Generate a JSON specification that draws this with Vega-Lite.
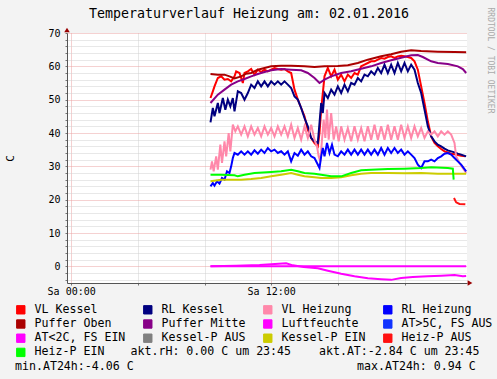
{
 "$schema": "https://vega.github.io/schema/vega-lite/v6.json",
 "width": 400,
 "height": 250,
 "autosize": {"type": "none"},
 "padding": {"left": 67, "top": 33, "right": 30, "bottom": 96},
 "background": "#f3f3f3",
 "view": {"fill": "white", "stroke": null},
 "title": {"text": "Temperaturverlauf Heizung am: 02.01.2016", "font": "DejaVu Sans Mono", "fontSize": 13.3, "fontWeight": "normal", "color": "#000000", "anchor": "middle", "frame": "group", "dx": -18, "offset": -24.5, "baseline": "alphabetic"},
 "resolve": {"axis": {"y": "independent"}},
 "layer": [
  {
   "data": {"values": [
    {"series":"VL Kessel","hour":8.36,"temp":50.5},{"series":"VL Kessel","hour":8.5,"temp":52.5},{"series":"VL Kessel","hour":8.6,"temp":54},{"series":"VL Kessel","hour":8.8,"temp":56.5},{"series":"VL Kessel","hour":9.0,"temp":57},{"series":"VL Kessel","hour":9.2,"temp":56},{"series":"VL Kessel","hour":9.4,"temp":56.2},{"series":"VL Kessel","hour":9.6,"temp":55.5},{"series":"VL Kessel","hour":9.8,"temp":57},{"series":"VL Kessel","hour":9.9,"temp":58.5},{"series":"VL Kessel","hour":10.1,"temp":58},{"series":"VL Kessel","hour":10.3,"temp":55},{"series":"VL Kessel","hour":10.4,"temp":58},{"series":"VL Kessel","hour":10.6,"temp":58.5},{"series":"VL Kessel","hour":10.8,"temp":59.2},{"series":"VL Kessel","hour":11.0,"temp":57.5},{"series":"VL Kessel","hour":11.2,"temp":59},{"series":"VL Kessel","hour":11.4,"temp":58.3},{"series":"VL Kessel","hour":11.6,"temp":59},{"series":"VL Kessel","hour":11.8,"temp":58.5},{"series":"VL Kessel","hour":12.0,"temp":59},{"series":"VL Kessel","hour":12.2,"temp":59.5},{"series":"VL Kessel","hour":12.4,"temp":59.2},{"series":"VL Kessel","hour":12.6,"temp":59},{"series":"VL Kessel","hour":12.8,"temp":59.2},{"series":"VL Kessel","hour":13.0,"temp":58.5},{"series":"VL Kessel","hour":13.2,"temp":58},{"series":"VL Kessel","hour":13.4,"temp":53},{"series":"VL Kessel","hour":13.6,"temp":50},{"series":"VL Kessel","hour":13.8,"temp":47.5},{"series":"VL Kessel","hour":14.0,"temp":45},{"series":"VL Kessel","hour":14.2,"temp":41},{"series":"VL Kessel","hour":14.4,"temp":38.5},{"series":"VL Kessel","hour":14.6,"temp":37},{"series":"VL Kessel","hour":14.8,"temp":36},{"series":"VL Kessel","hour":14.9,"temp":40},{"series":"VL Kessel","hour":15.0,"temp":47},{"series":"VL Kessel","hour":15.2,"temp":57},{"series":"VL Kessel","hour":15.4,"temp":59.5},{"series":"VL Kessel","hour":15.6,"temp":57},{"series":"VL Kessel","hour":15.8,"temp":59},{"series":"VL Kessel","hour":16.0,"temp":56},{"series":"VL Kessel","hour":16.2,"temp":57.5},{"series":"VL Kessel","hour":16.4,"temp":55.5},{"series":"VL Kessel","hour":16.6,"temp":57.5},{"series":"VL Kessel","hour":16.8,"temp":56.5},{"series":"VL Kessel","hour":17.0,"temp":58},{"series":"VL Kessel","hour":17.2,"temp":57.5},{"series":"VL Kessel","hour":17.4,"temp":60},{"series":"VL Kessel","hour":17.6,"temp":60.5},{"series":"VL Kessel","hour":17.8,"temp":61},{"series":"VL Kessel","hour":18.0,"temp":61.5},{"series":"VL Kessel","hour":18.2,"temp":61.5},{"series":"VL Kessel","hour":18.4,"temp":62},{"series":"VL Kessel","hour":18.6,"temp":62.5},{"series":"VL Kessel","hour":18.8,"temp":62.3},{"series":"VL Kessel","hour":19.0,"temp":62.8},{"series":"VL Kessel","hour":19.2,"temp":63},{"series":"VL Kessel","hour":19.4,"temp":62.5},{"series":"VL Kessel","hour":19.6,"temp":63},{"series":"VL Kessel","hour":19.8,"temp":63.2},{"series":"VL Kessel","hour":20.0,"temp":63},{"series":"VL Kessel","hour":20.2,"temp":62.8},{"series":"VL Kessel","hour":20.4,"temp":62.5},{"series":"VL Kessel","hour":20.6,"temp":61.5},{"series":"VL Kessel","hour":20.8,"temp":59},{"series":"VL Kessel","hour":21.0,"temp":54},{"series":"VL Kessel","hour":21.2,"temp":49},{"series":"VL Kessel","hour":21.4,"temp":43.5},{"series":"VL Kessel","hour":21.6,"temp":39},{"series":"VL Kessel","hour":21.8,"temp":37},{"series":"VL Kessel","hour":22.0,"temp":36},{"series":"VL Kessel","hour":22.2,"temp":35.2},{"series":"VL Kessel","hour":22.4,"temp":34.5},{"series":"VL Kessel","hour":22.6,"temp":34.2},{"series":"VL Kessel","hour":22.8,"temp":33.8},{"series":"VL Kessel","hour":23.0,"temp":33.6},{"series":"VL Kessel","hour":23.2,"temp":33.4},{"series":"VL Kessel","hour":23.4,"temp":33.2},{"series":"VL Kessel","hour":23.65,"temp":33},

    {"series":"RL Kessel","hour":8.36,"temp":43.2},{"series":"RL Kessel","hour":8.5,"temp":47.5},{"series":"RL Kessel","hour":8.6,"temp":45},{"series":"RL Kessel","hour":8.8,"temp":49},{"series":"RL Kessel","hour":8.9,"temp":46},{"series":"RL Kessel","hour":9.1,"temp":50.5},{"series":"RL Kessel","hour":9.25,"temp":47},{"series":"RL Kessel","hour":9.4,"temp":50},{"series":"RL Kessel","hour":9.55,"temp":48},{"series":"RL Kessel","hour":9.7,"temp":50.5},{"series":"RL Kessel","hour":9.8,"temp":46.5},{"series":"RL Kessel","hour":10.0,"temp":52.5},{"series":"RL Kessel","hour":10.2,"temp":52},{"series":"RL Kessel","hour":10.4,"temp":50},{"series":"RL Kessel","hour":10.6,"temp":52},{"series":"RL Kessel","hour":10.8,"temp":54.5},{"series":"RL Kessel","hour":11.0,"temp":53.5},{"series":"RL Kessel","hour":11.2,"temp":55.5},{"series":"RL Kessel","hour":11.4,"temp":54},{"series":"RL Kessel","hour":11.6,"temp":55.5},{"series":"RL Kessel","hour":11.8,"temp":54},{"series":"RL Kessel","hour":12.0,"temp":55.5},{"series":"RL Kessel","hour":12.2,"temp":54.5},{"series":"RL Kessel","hour":12.4,"temp":55.5},{"series":"RL Kessel","hour":12.6,"temp":54.5},{"series":"RL Kessel","hour":12.8,"temp":55.5},{"series":"RL Kessel","hour":13.0,"temp":54.5},{"series":"RL Kessel","hour":13.2,"temp":53.5},{"series":"RL Kessel","hour":13.4,"temp":51},{"series":"RL Kessel","hour":13.6,"temp":50},{"series":"RL Kessel","hour":13.8,"temp":47.5},{"series":"RL Kessel","hour":14.0,"temp":44.5},{"series":"RL Kessel","hour":14.2,"temp":42},{"series":"RL Kessel","hour":14.4,"temp":38.5},{"series":"RL Kessel","hour":14.6,"temp":37.5},{"series":"RL Kessel","hour":14.8,"temp":37},{"series":"RL Kessel","hour":14.9,"temp":43},{"series":"RL Kessel","hour":15.0,"temp":49},{"series":"RL Kessel","hour":15.1,"temp":46},{"series":"RL Kessel","hour":15.2,"temp":52},{"series":"RL Kessel","hour":15.4,"temp":50.5},{"series":"RL Kessel","hour":15.6,"temp":53},{"series":"RL Kessel","hour":15.8,"temp":51.5},{"series":"RL Kessel","hour":16.0,"temp":54},{"series":"RL Kessel","hour":16.2,"temp":52},{"series":"RL Kessel","hour":16.4,"temp":54.5},{"series":"RL Kessel","hour":16.6,"temp":52.5},{"series":"RL Kessel","hour":16.8,"temp":55},{"series":"RL Kessel","hour":17.0,"temp":54.5},{"series":"RL Kessel","hour":17.2,"temp":56.5},{"series":"RL Kessel","hour":17.4,"temp":55.5},{"series":"RL Kessel","hour":17.6,"temp":57.5},{"series":"RL Kessel","hour":17.8,"temp":57},{"series":"RL Kessel","hour":18.0,"temp":58.5},{"series":"RL Kessel","hour":18.2,"temp":57.5},{"series":"RL Kessel","hour":18.4,"temp":59.5},{"series":"RL Kessel","hour":18.6,"temp":58},{"series":"RL Kessel","hour":18.8,"temp":60.5},{"series":"RL Kessel","hour":19.0,"temp":58},{"series":"RL Kessel","hour":19.2,"temp":60.5},{"series":"RL Kessel","hour":19.4,"temp":58},{"series":"RL Kessel","hour":19.6,"temp":61},{"series":"RL Kessel","hour":19.8,"temp":58.5},{"series":"RL Kessel","hour":20.0,"temp":61},{"series":"RL Kessel","hour":20.2,"temp":58.5},{"series":"RL Kessel","hour":20.4,"temp":60.5},{"series":"RL Kessel","hour":20.6,"temp":59},{"series":"RL Kessel","hour":20.8,"temp":55},{"series":"RL Kessel","hour":21.0,"temp":52},{"series":"RL Kessel","hour":21.2,"temp":47},{"series":"RL Kessel","hour":21.4,"temp":42},{"series":"RL Kessel","hour":21.6,"temp":39},{"series":"RL Kessel","hour":21.8,"temp":37.5},{"series":"RL Kessel","hour":22.0,"temp":36.5},{"series":"RL Kessel","hour":22.2,"temp":36},{"series":"RL Kessel","hour":22.4,"temp":35.3},{"series":"RL Kessel","hour":22.6,"temp":34.8},{"series":"RL Kessel","hour":22.8,"temp":34.5},{"series":"RL Kessel","hour":23.0,"temp":34.2},{"series":"RL Kessel","hour":23.2,"temp":33.8},{"series":"RL Kessel","hour":23.4,"temp":33.5},{"series":"RL Kessel","hour":23.7,"temp":33},

    {"series":"VL Heizung","hour":8.36,"temp":29},{"series":"VL Heizung","hour":8.45,"temp":31.5},{"series":"VL Heizung","hour":8.55,"temp":28.5},{"series":"VL Heizung","hour":8.7,"temp":33},{"series":"VL Heizung","hour":8.8,"temp":29},{"series":"VL Heizung","hour":8.95,"temp":36.5},{"series":"VL Heizung","hour":9.05,"temp":31},{"series":"VL Heizung","hour":9.2,"temp":37.5},{"series":"VL Heizung","hour":9.3,"temp":33},{"series":"VL Heizung","hour":9.45,"temp":40},{"series":"VL Heizung","hour":9.55,"temp":34.5},{"series":"VL Heizung","hour":9.7,"temp":42.5},{"series":"VL Heizung","hour":9.85,"temp":40.5},{"series":"VL Heizung","hour":10.0,"temp":42},{"series":"VL Heizung","hour":10.2,"temp":39.5},{"series":"VL Heizung","hour":10.4,"temp":42},{"series":"VL Heizung","hour":10.6,"temp":39},{"series":"VL Heizung","hour":10.8,"temp":42},{"series":"VL Heizung","hour":11.0,"temp":39.5},{"series":"VL Heizung","hour":11.2,"temp":41.5},{"series":"VL Heizung","hour":11.4,"temp":39},{"series":"VL Heizung","hour":11.6,"temp":42},{"series":"VL Heizung","hour":11.8,"temp":39.5},{"series":"VL Heizung","hour":12.0,"temp":41.5},{"series":"VL Heizung","hour":12.2,"temp":39},{"series":"VL Heizung","hour":12.4,"temp":42},{"series":"VL Heizung","hour":12.6,"temp":39.5},{"series":"VL Heizung","hour":12.8,"temp":42},{"series":"VL Heizung","hour":13.0,"temp":39},{"series":"VL Heizung","hour":13.2,"temp":42.5},{"series":"VL Heizung","hour":13.4,"temp":38.5},{"series":"VL Heizung","hour":13.6,"temp":41.5},{"series":"VL Heizung","hour":13.8,"temp":38},{"series":"VL Heizung","hour":14.0,"temp":42},{"series":"VL Heizung","hour":14.2,"temp":38.5},{"series":"VL Heizung","hour":14.4,"temp":42.5},{"series":"VL Heizung","hour":14.6,"temp":38},{"series":"VL Heizung","hour":14.75,"temp":36},{"series":"VL Heizung","hour":14.85,"temp":33},{"series":"VL Heizung","hour":14.95,"temp":31.5},{"series":"VL Heizung","hour":15.05,"temp":38},{"series":"VL Heizung","hour":15.15,"temp":44},{"series":"VL Heizung","hour":15.25,"temp":38.5},{"series":"VL Heizung","hour":15.35,"temp":47},{"series":"VL Heizung","hour":15.45,"temp":38},{"series":"VL Heizung","hour":15.6,"temp":46},{"series":"VL Heizung","hour":15.75,"temp":38},{"series":"VL Heizung","hour":15.9,"temp":42},{"series":"VL Heizung","hour":16.05,"temp":37.5},{"series":"VL Heizung","hour":16.2,"temp":42},{"series":"VL Heizung","hour":16.4,"temp":38},{"series":"VL Heizung","hour":16.6,"temp":41.5},{"series":"VL Heizung","hour":16.8,"temp":37.5},{"series":"VL Heizung","hour":17.0,"temp":42},{"series":"VL Heizung","hour":17.2,"temp":38},{"series":"VL Heizung","hour":17.4,"temp":41.5},{"series":"VL Heizung","hour":17.6,"temp":37.5},{"series":"VL Heizung","hour":17.8,"temp":42},{"series":"VL Heizung","hour":18.0,"temp":38},{"series":"VL Heizung","hour":18.2,"temp":42.5},{"series":"VL Heizung","hour":18.4,"temp":38},{"series":"VL Heizung","hour":18.6,"temp":42},{"series":"VL Heizung","hour":18.8,"temp":38},{"series":"VL Heizung","hour":19.0,"temp":42.5},{"series":"VL Heizung","hour":19.2,"temp":38},{"series":"VL Heizung","hour":19.4,"temp":42},{"series":"VL Heizung","hour":19.6,"temp":38},{"series":"VL Heizung","hour":19.8,"temp":42.5},{"series":"VL Heizung","hour":20.0,"temp":38.5},{"series":"VL Heizung","hour":20.2,"temp":42},{"series":"VL Heizung","hour":20.4,"temp":38.5},{"series":"VL Heizung","hour":20.6,"temp":42},{"series":"VL Heizung","hour":20.8,"temp":39},{"series":"VL Heizung","hour":21.0,"temp":41.5},{"series":"VL Heizung","hour":21.2,"temp":38.5},{"series":"VL Heizung","hour":21.4,"temp":40.5},{"series":"VL Heizung","hour":21.6,"temp":39.5},{"series":"VL Heizung","hour":21.8,"temp":40.5},{"series":"VL Heizung","hour":22.0,"temp":39},{"series":"VL Heizung","hour":22.2,"temp":40.5},{"series":"VL Heizung","hour":22.4,"temp":39.5},{"series":"VL Heizung","hour":22.6,"temp":40.5},{"series":"VL Heizung","hour":22.8,"temp":39.5},{"series":"VL Heizung","hour":23.0,"temp":37},{"series":"VL Heizung","hour":23.1,"temp":33},{"series":"VL Heizung","hour":23.3,"temp":31},{"series":"VL Heizung","hour":23.5,"temp":29.5},{"series":"VL Heizung","hour":23.7,"temp":28},

    {"series":"RL Heizung","hour":8.36,"temp":24},{"series":"RL Heizung","hour":8.5,"temp":25},{"series":"RL Heizung","hour":8.6,"temp":24.2},{"series":"RL Heizung","hour":8.75,"temp":25.5},{"series":"RL Heizung","hour":8.9,"temp":24.8},{"series":"RL Heizung","hour":9.05,"temp":26.5},{"series":"RL Heizung","hour":9.2,"temp":26},{"series":"RL Heizung","hour":9.35,"temp":28.5},{"series":"RL Heizung","hour":9.5,"temp":28},{"series":"RL Heizung","hour":9.6,"temp":30},{"series":"RL Heizung","hour":9.7,"temp":32.5},{"series":"RL Heizung","hour":9.8,"temp":34},{"series":"RL Heizung","hour":10.0,"temp":33.5},{"series":"RL Heizung","hour":10.2,"temp":34.5},{"series":"RL Heizung","hour":10.4,"temp":33.5},{"series":"RL Heizung","hour":10.6,"temp":34.5},{"series":"RL Heizung","hour":10.8,"temp":33.5},{"series":"RL Heizung","hour":11.0,"temp":34.8},{"series":"RL Heizung","hour":11.2,"temp":33.8},{"series":"RL Heizung","hour":11.4,"temp":35},{"series":"RL Heizung","hour":11.6,"temp":34},{"series":"RL Heizung","hour":11.8,"temp":35.5},{"series":"RL Heizung","hour":12.0,"temp":34.5},{"series":"RL Heizung","hour":12.2,"temp":35},{"series":"RL Heizung","hour":12.4,"temp":34},{"series":"RL Heizung","hour":12.6,"temp":34.5},{"series":"RL Heizung","hour":12.8,"temp":33.5},{"series":"RL Heizung","hour":13.0,"temp":34.5},{"series":"RL Heizung","hour":13.2,"temp":31.5},{"series":"RL Heizung","hour":13.4,"temp":34},{"series":"RL Heizung","hour":13.6,"temp":33.2},{"series":"RL Heizung","hour":13.8,"temp":35},{"series":"RL Heizung","hour":14.0,"temp":33.5},{"series":"RL Heizung","hour":14.2,"temp":34.5},{"series":"RL Heizung","hour":14.4,"temp":33},{"series":"RL Heizung","hour":14.6,"temp":32.5},{"series":"RL Heizung","hour":14.75,"temp":31},{"series":"RL Heizung","hour":14.9,"temp":29.5},{"series":"RL Heizung","hour":15.0,"temp":33},{"series":"RL Heizung","hour":15.1,"temp":35.5},{"series":"RL Heizung","hour":15.2,"temp":33},{"series":"RL Heizung","hour":15.35,"temp":37},{"series":"RL Heizung","hour":15.5,"temp":34},{"series":"RL Heizung","hour":15.65,"temp":36.5},{"series":"RL Heizung","hour":15.8,"temp":33.5},{"series":"RL Heizung","hour":16.0,"temp":33},{"series":"RL Heizung","hour":16.2,"temp":34.5},{"series":"RL Heizung","hour":16.4,"temp":33.5},{"series":"RL Heizung","hour":16.6,"temp":35},{"series":"RL Heizung","hour":16.8,"temp":33.5},{"series":"RL Heizung","hour":17.0,"temp":35},{"series":"RL Heizung","hour":17.2,"temp":33.5},{"series":"RL Heizung","hour":17.4,"temp":35},{"series":"RL Heizung","hour":17.6,"temp":33.5},{"series":"RL Heizung","hour":17.8,"temp":35},{"series":"RL Heizung","hour":18.0,"temp":33.5},{"series":"RL Heizung","hour":18.2,"temp":35},{"series":"RL Heizung","hour":18.4,"temp":33.5},{"series":"RL Heizung","hour":18.6,"temp":35.5},{"series":"RL Heizung","hour":18.8,"temp":33.5},{"series":"RL Heizung","hour":19.0,"temp":35.5},{"series":"RL Heizung","hour":19.2,"temp":34},{"series":"RL Heizung","hour":19.4,"temp":35.5},{"series":"RL Heizung","hour":19.6,"temp":34},{"series":"RL Heizung","hour":19.8,"temp":35},{"series":"RL Heizung","hour":20.0,"temp":33.5},{"series":"RL Heizung","hour":20.2,"temp":34.5},{"series":"RL Heizung","hour":20.4,"temp":33.5},{"series":"RL Heizung","hour":20.6,"temp":32.5},{"series":"RL Heizung","hour":20.8,"temp":30.5},{"series":"RL Heizung","hour":21.0,"temp":29.5},{"series":"RL Heizung","hour":21.2,"temp":31.5},{"series":"RL Heizung","hour":21.4,"temp":31.5},{"series":"RL Heizung","hour":21.6,"temp":32},{"series":"RL Heizung","hour":21.8,"temp":31.5},{"series":"RL Heizung","hour":22.0,"temp":32.5},{"series":"RL Heizung","hour":22.2,"temp":33},{"series":"RL Heizung","hour":22.4,"temp":33.8},{"series":"RL Heizung","hour":22.6,"temp":34},{"series":"RL Heizung","hour":22.8,"temp":33.5},{"series":"RL Heizung","hour":23.0,"temp":32.5},{"series":"RL Heizung","hour":23.2,"temp":31.5},{"series":"RL Heizung","hour":23.4,"temp":30.5},{"series":"RL Heizung","hour":23.7,"temp":28.5},

    {"series":"Puffer Oben","hour":8.36,"temp":57.7},{"series":"Puffer Oben","hour":8.8,"temp":57.5},{"series":"Puffer Oben","hour":9.2,"temp":57.5},{"series":"Puffer Oben","hour":9.5,"temp":57},{"series":"Puffer Oben","hour":9.8,"temp":56.4},{"series":"Puffer Oben","hour":10.2,"temp":57},{"series":"Puffer Oben","hour":10.5,"temp":57.8},{"series":"Puffer Oben","hour":10.8,"temp":58},{"series":"Puffer Oben","hour":11.2,"temp":59},{"series":"Puffer Oben","hour":11.6,"temp":59.5},{"series":"Puffer Oben","hour":12.0,"temp":60},{"series":"Puffer Oben","hour":12.6,"temp":60.2},{"series":"Puffer Oben","hour":13.2,"temp":60.2},{"series":"Puffer Oben","hour":14.0,"temp":60},{"series":"Puffer Oben","hour":14.6,"temp":59.8},{"series":"Puffer Oben","hour":15.2,"temp":60},{"series":"Puffer Oben","hour":16.0,"temp":60.1},{"series":"Puffer Oben","hour":16.6,"temp":60.3},{"series":"Puffer Oben","hour":17.2,"temp":61},{"series":"Puffer Oben","hour":17.8,"temp":62},{"series":"Puffer Oben","hour":18.6,"temp":63},{"series":"Puffer Oben","hour":19.2,"temp":63.6},{"series":"Puffer Oben","hour":19.8,"temp":64.4},{"series":"Puffer Oben","hour":20.4,"temp":64.8},{"series":"Puffer Oben","hour":21.0,"temp":64.6},{"series":"Puffer Oben","hour":22.0,"temp":64.4},{"series":"Puffer Oben","hour":23.0,"temp":64.3},{"series":"Puffer Oben","hour":23.7,"temp":64.2},

    {"series":"Puffer Mitte","hour":8.36,"temp":49},{"series":"Puffer Mitte","hour":8.8,"temp":51.5},{"series":"Puffer Mitte","hour":9.2,"temp":53},{"series":"Puffer Mitte","hour":9.6,"temp":54.5},{"series":"Puffer Mitte","hour":10.0,"temp":55.5},{"series":"Puffer Mitte","hour":10.4,"temp":56.2},{"series":"Puffer Mitte","hour":10.8,"temp":57},{"series":"Puffer Mitte","hour":11.2,"temp":57.7},{"series":"Puffer Mitte","hour":11.6,"temp":58.3},{"series":"Puffer Mitte","hour":12.0,"temp":58.8},{"series":"Puffer Mitte","hour":12.6,"temp":59.2},{"series":"Puffer Mitte","hour":13.2,"temp":59},{"series":"Puffer Mitte","hour":13.8,"temp":58.8},{"series":"Puffer Mitte","hour":14.2,"temp":58},{"series":"Puffer Mitte","hour":14.6,"temp":56.5},{"series":"Puffer Mitte","hour":14.9,"temp":55},{"series":"Puffer Mitte","hour":15.2,"temp":56},{"series":"Puffer Mitte","hour":15.6,"temp":57},{"series":"Puffer Mitte","hour":16.2,"temp":58},{"series":"Puffer Mitte","hour":16.8,"temp":58.5},{"series":"Puffer Mitte","hour":17.4,"temp":59.3},{"series":"Puffer Mitte","hour":18.0,"temp":60},{"series":"Puffer Mitte","hour":18.6,"temp":61},{"series":"Puffer Mitte","hour":19.2,"temp":61.8},{"series":"Puffer Mitte","hour":19.8,"temp":62.6},{"series":"Puffer Mitte","hour":20.4,"temp":63.3},{"series":"Puffer Mitte","hour":20.8,"temp":63.4},{"series":"Puffer Mitte","hour":21.1,"temp":62.8},{"series":"Puffer Mitte","hour":21.6,"temp":61.5},{"series":"Puffer Mitte","hour":22.0,"temp":61},{"series":"Puffer Mitte","hour":22.6,"temp":60.7},{"series":"Puffer Mitte","hour":23.2,"temp":60},{"series":"Puffer Mitte","hour":23.5,"temp":59.2},{"series":"Puffer Mitte","hour":23.7,"temp":58},

    {"series":"Luftfeuchte","hour":8.36,"temp":0},{"series":"Luftfeuchte","hour":12.0,"temp":0},{"series":"Luftfeuchte","hour":18.0,"temp":0},{"series":"Luftfeuchte","hour":23.7,"temp":0},

    {"series":"AT<2C, FS EIN","hour":8.36,"temp":0},{"series":"AT<2C, FS EIN","hour":9.9,"temp":0.2},{"series":"AT<2C, FS EIN","hour":11.3,"temp":0.4},{"series":"AT<2C, FS EIN","hour":12.0,"temp":0.6},{"series":"AT<2C, FS EIN","hour":12.9,"temp":0.9},{"series":"AT<2C, FS EIN","hour":13.3,"temp":0.3},{"series":"AT<2C, FS EIN","hour":13.95,"temp":-0.2},{"series":"AT<2C, FS EIN","hour":14.8,"temp":-0.6},{"series":"AT<2C, FS EIN","hour":15.4,"temp":-1.3},{"series":"AT<2C, FS EIN","hour":16.2,"temp":-2.2},{"series":"AT<2C, FS EIN","hour":17.0,"temp":-3},{"series":"AT<2C, FS EIN","hour":17.8,"temp":-3.6},{"series":"AT<2C, FS EIN","hour":18.6,"temp":-3.9},{"series":"AT<2C, FS EIN","hour":19.2,"temp":-4.06},{"series":"AT<2C, FS EIN","hour":19.8,"temp":-3.5},{"series":"AT<2C, FS EIN","hour":20.5,"temp":-3.2},{"series":"AT<2C, FS EIN","hour":21.4,"temp":-3},{"series":"AT<2C, FS EIN","hour":22.2,"temp":-2.8},{"series":"AT<2C, FS EIN","hour":23.0,"temp":-2.6},{"series":"AT<2C, FS EIN","hour":23.5,"temp":-3},{"series":"AT<2C, FS EIN","hour":23.7,"temp":-2.9},

    {"series":"Kessel-P EIN","hour":8.36,"temp":25.5},{"series":"Kessel-P EIN","hour":9.0,"temp":26},{"series":"Kessel-P EIN","hour":9.6,"temp":26},{"series":"Kessel-P EIN","hour":10.2,"temp":26},{"series":"Kessel-P EIN","hour":10.8,"temp":26.2},{"series":"Kessel-P EIN","hour":11.4,"temp":26.5},{"series":"Kessel-P EIN","hour":12.0,"temp":27},{"series":"Kessel-P EIN","hour":12.6,"temp":27.5},{"series":"Kessel-P EIN","hour":13.2,"temp":28},{"series":"Kessel-P EIN","hour":13.6,"temp":27.5},{"series":"Kessel-P EIN","hour":14.0,"temp":27},{"series":"Kessel-P EIN","hour":14.6,"temp":26.7},{"series":"Kessel-P EIN","hour":15.0,"temp":26.5},{"series":"Kessel-P EIN","hour":15.6,"temp":26.5},{"series":"Kessel-P EIN","hour":16.2,"temp":26.7},{"series":"Kessel-P EIN","hour":16.8,"temp":27.3},{"series":"Kessel-P EIN","hour":17.4,"temp":27.8},{"series":"Kessel-P EIN","hour":18.0,"temp":28},{"series":"Kessel-P EIN","hour":19.0,"temp":28},{"series":"Kessel-P EIN","hour":20.0,"temp":27.9},{"series":"Kessel-P EIN","hour":21.0,"temp":28},{"series":"Kessel-P EIN","hour":22.0,"temp":27.8},{"series":"Kessel-P EIN","hour":23.0,"temp":27.8},{"series":"Kessel-P EIN","hour":23.7,"temp":27.8},

    {"series":"Heiz-P AUS","hour":22.97,"temp":20.5},{"series":"Heiz-P AUS","hour":23.1,"temp":19.2},{"series":"Heiz-P AUS","hour":23.3,"temp":18.7},{"series":"Heiz-P AUS","hour":23.65,"temp":18.6},

    {"series":"Heiz-P EIN","hour":8.36,"temp":27.5},{"series":"Heiz-P EIN","hour":9.0,"temp":27.5},{"series":"Heiz-P EIN","hour":9.8,"temp":27.3},{"series":"Heiz-P EIN","hour":10.0,"temp":27},{"series":"Heiz-P EIN","hour":10.4,"temp":27.5},{"series":"Heiz-P EIN","hour":11.0,"temp":28},{"series":"Heiz-P EIN","hour":12.0,"temp":28.3},{"series":"Heiz-P EIN","hour":12.6,"temp":28.5},{"series":"Heiz-P EIN","hour":13.2,"temp":29},{"series":"Heiz-P EIN","hour":13.6,"temp":28.5},{"series":"Heiz-P EIN","hour":14.0,"temp":28},{"series":"Heiz-P EIN","hour":14.6,"temp":27.8},{"series":"Heiz-P EIN","hour":15.0,"temp":27.5},{"series":"Heiz-P EIN","hour":15.6,"temp":27},{"series":"Heiz-P EIN","hour":16.2,"temp":27},{"series":"Heiz-P EIN","hour":16.8,"temp":28},{"series":"Heiz-P EIN","hour":17.4,"temp":28.8},{"series":"Heiz-P EIN","hour":18.0,"temp":29},{"series":"Heiz-P EIN","hour":19.0,"temp":29.2},{"series":"Heiz-P EIN","hour":20.0,"temp":29.3},{"series":"Heiz-P EIN","hour":21.0,"temp":29.5},{"series":"Heiz-P EIN","hour":21.6,"temp":29.7},{"series":"Heiz-P EIN","hour":22.6,"temp":29.5},{"series":"Heiz-P EIN","hour":22.9,"temp":29.3},{"series":"Heiz-P EIN","hour":22.95,"temp":26}
   ]},
   "mark": {"type": "line", "strokeWidth": 2, "strokeJoin": "miter", "clip": true},
   "encoding": {
    "x": {"field": "hour", "type": "quantitative",
     "scale": {"domain": [-0.25, 23.75], "nice": false, "zero": false},
     "axis": {"values": [0,1,2,3,4,5,6,7,8,9,10,11,12,13,14,15,16,17,18,19,20,21,22,23],
      "grid": true, "gridColor": {"condition": {"test": "datum.value % 6 === 0", "value": "#eba3a3"}, "value": "#d0d0d0"}, "gridDash": [1,1], "gridWidth": 1,
      "labelExpr": "datum.value === 0 ? 'Sa 00:00' : (datum.value === 12 ? 'Sa 12:00' : '')",
      "labelFont": "DejaVu Sans Mono", "labelFontSize": 10, "labelColor": "#000000", "labelFlush": false, "labelOverlap": false, "labelBound": false, "labelPadding": 1,
      "ticks": true, "tickSize": 2, "tickColor": "#777777", "domain": true, "domainColor": "#555555", "domainWidth": 1,
      "title": "akt.rH: 0.00 C um 23:45\u00a0\u00a0\u00a0\u00a0akt.AT:-2.84 C um 23:45", "titleX": 63, "titleY": 68, "titleAlign": "left", "titleBaseline": "middle", "titleAngle": 0, "titleFont": "DejaVu Sans Mono", "titleFontSize": 11.6, "titleFontWeight": "normal", "titleColor": "#000000", "titleLimit": 0}},
    "y": {"field": "temp", "type": "quantitative",
     "scale": {"domain": [-5, 70], "nice": false, "zero": false},
     "axis": {"values": [-4,-2,0,2,4,6,8,10,12,14,16,18,20,22,24,26,28,30,32,34,36,38,40,42,44,46,48,50,52,54,56,58,60,62,64,66,68,70],
      "grid": true, "gridColor": {"condition": {"test": "datum.value % 10 === 0", "value": "#eba3a3"}, "value": "#d0d0d0"}, "gridDash": [1,1], "gridWidth": 1,
      "labelExpr": "datum.value % 10 === 0 ? datum.label : ''",
      "labelFont": "DejaVu Sans Mono", "labelFontSize": 10, "labelColor": "#000000", "labelOverlap": false, "labelBound": false, "labelFlush": false, "labelPadding": 5,
      "ticks": true, "tickSize": 2, "tickColor": "#777777", "domain": true, "domainColor": "#555555", "domainWidth": 1,
      "title": "C", "titleFont": "DejaVu Sans Mono", "titleFontSize": 11, "titleFontWeight": "normal", "titleColor": "#000000", "titleX": -57, "titleY": 125, "titleAngle": -90, "titleAlign": "center", "titleBaseline": "middle"}},
    "color": {"field": "series", "type": "nominal",
     "scale": {"domain": ["VL Kessel","RL Kessel","VL Heizung","RL Heizung","Puffer Oben","Puffer Mitte","Luftfeuchte","AT>5C, FS AUS","AT<2C, FS EIN","Kessel-P AUS","Kessel-P EIN","Heiz-P AUS","Heiz-P EIN"],
      "range": ["#ff0000","#000080","#ff88aa","#0000ff","#aa0000","#880088","#ff00ff","#1133ff","#ff00ff","#808080","#cccc00","#ff1111","#00ff00"]},
     "legend": {"orient": "none", "legendX": -52, "legendY": 271, "columns": 4, "direction": "horizontal", "gridAlign": "each", "columnPadding": 15, "rowPadding": 1.2,
      "symbolType": "square", "symbolSize": 70, "symbolStrokeWidth": 1, "symbolStrokeColor": "#000000",
      "labelFont": "DejaVu Sans Mono", "labelFontSize": 11.6, "labelColor": "#000000", "labelOffset": 8, "labelLimit": 0,
      "title": "min.AT24h:-4.06 C\u00a0\u00a0\u00a0\u00a0\u00a0\u00a0\u00a0\u00a0\u00a0\u00a0\u00a0\u00a0\u00a0\u00a0\u00a0\u00a0\u00a0\u00a0\u00a0\u00a0\u00a0\u00a0\u00a0\u00a0\u00a0\u00a0\u00a0\u00a0\u00a0\u00a0\u00a0\u00a0max.AT24h: 0.94 C",
      "titleOrient": "bottom", "titleAnchor": "start", "titleAlign": "left", "titleBaseline": "top", "titleFont": "DejaVu Sans Mono", "titleFontSize": 11.6, "titleFontWeight": "normal", "titleColor": "#000000", "titleLineHeight": 14, "titlePadding": 2, "titleLimit": 0,
      "padding": 0,
      "encode": {"symbols": {"update": {"fill": {"scale": "color", "field": "value"}, "stroke": {"value": "#000000"}, "strokeWidth": {"value": 1}, "opacity": {"value": 1}}}}}}
   }
  },
  {
   "data": {"values": [{}]},
   "mark": {"type": "point", "shape": "triangle-up", "filled": true, "color": "#990000", "size": 30, "opacity": 1},
   "encoding": {
    "x": {"datum": -0.25, "type": "quantitative"},
    "y": {"datum": 70.9, "type": "quantitative",
     "axis": {"orient": "right", "title": "RRDTOOL / TOBI OETIKER", "labels": false, "ticks": false, "domain": false, "grid": false,
      "titleAngle": 90, "titleX": 22, "titleY": -26, "titleAlign": "left", "titleBaseline": "middle", "titleFont": "DejaVu Sans Mono", "titleFontSize": 8, "titleFontWeight": "normal", "titleColor": "#aaaaaa"}}
   }
  },
  {
   "data": {"values": [{}]},
   "mark": {"type": "point", "shape": "triangle-right", "filled": true, "color": "#990000", "size": 30, "opacity": 1},
   "encoding": {
    "x": {"datum": 23.93, "type": "quantitative"},
    "y": {"datum": -5, "type": "quantitative", "axis": null}
   }
  }
 ]
}
